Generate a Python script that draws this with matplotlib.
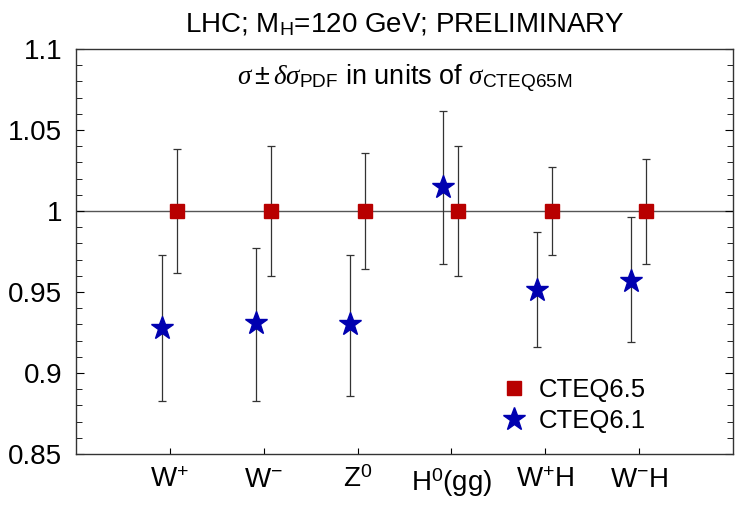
import numpy as np
import matplotlib
matplotlib.use('Agg')
import matplotlib.pyplot as plt

plt.rcParams['font.family'] = ['Liberation Sans', 'DejaVu Sans']
plt.rcParams['mathtext.fontset'] = 'custom'
plt.rcParams['mathtext.rm'] = 'Liberation Sans'
plt.rcParams['mathtext.it'] = 'Liberation Serif:italic'

# processes
labels = ['W$^{+}$', 'W$^{-}$', 'Z$^{0}$', 'H$^{0}$(gg)', 'W$^{+}$H', 'W$^{-}$H']

# CTEQ6.5 (normalised to itself)
cteq65 = [1.0, 1.0, 1.0, 1.0, 1.0, 1.0]
cteq65_up = [1.038, 1.040, 1.036, 1.040, 1.027, 1.032]
cteq65_lo = [0.962, 0.960, 0.964, 0.960, 0.973, 0.967]

# CTEQ6.1
cteq61 = [0.928, 0.931, 0.930, 1.015, 0.951, 0.957]
cteq61_up = [0.973, 0.977, 0.973, 1.062, 0.987, 0.996]
cteq61_lo = [0.883, 0.883, 0.886, 0.967, 0.916, 0.919]

x = np.arange(1, len(labels) + 1)
c65 = np.array(cteq65)
c61 = np.array(cteq61)

fig = plt.figure(figsize=(7.39, 5.07), dpi=100)
ax = fig.add_axes([0.1028, 0.1045, 0.8891, 0.7989])

ax.axhline(1.0, color='#555555', lw=1.0, zorder=1)

ax.errorbar(x + 0.075, c65, yerr=[c65 - np.array(cteq65_lo), np.array(cteq65_up) - c65],
            fmt='none', ecolor='#333333', elinewidth=0.9, capsize=3, capthick=0.9, zorder=2)
ax.errorbar(x - 0.085, c61, yerr=[c61 - np.array(cteq61_lo), np.array(cteq61_up) - c61],
            fmt='none', ecolor='#333333', elinewidth=0.9, capsize=3, capthick=0.9, zorder=2)

ax.plot(x + 0.075, c65, 's', color='#b80000', ms=10, zorder=3, label='CTEQ6.5')
ax.plot(x - 0.085, c61, '*', color='#0000b0', ms=17, zorder=3, label='CTEQ6.1')

ax.set_xlim(0, 7)
ax.set_ylim(0.85, 1.1)
ax.set_xticks(x)
ax.set_xticklabels(labels, fontsize=20)
ax.set_yticks([0.85, 0.9, 0.95, 1.0, 1.05, 1.1])
ax.set_yticklabels(['0.85', '0.9', '0.95', '1', '1.05', '1.1'], fontsize=20)
ax.set_yticks(np.arange(0.85, 1.1001, 0.01), minor=True)
ax.tick_params(axis='x', direction='in', length=4, pad=9)
ax.tick_params(axis='y', which='both', direction='in', right=True, length=4, pad=10)
ax.tick_params(axis='y', which='major', length=6)
for s in ax.spines.values():
    s.set_linewidth(1.0)
    s.set_color('#333333')

ax.set_title('LHC; M$_{\\rm H}$=120 GeV; PRELIMINARY', fontsize=20, pad=12)
ax.text(0.5, 0.912, r'$\sigma\pm\delta\sigma_{\rm PDF}$ in units of $\sigma_{\rm CTEQ65M}$',
        transform=ax.transAxes, ha='center', va='baseline', fontsize=19.5)

ax.legend(loc='center left', bbox_to_anchor=(0.608, 0.12), frameon=False, fontsize=18.5,
          handletextpad=0.36, labelspacing=0.3, handlelength=1.2, borderpad=0.4)

fig.savefig('out.png', dpi=100)
